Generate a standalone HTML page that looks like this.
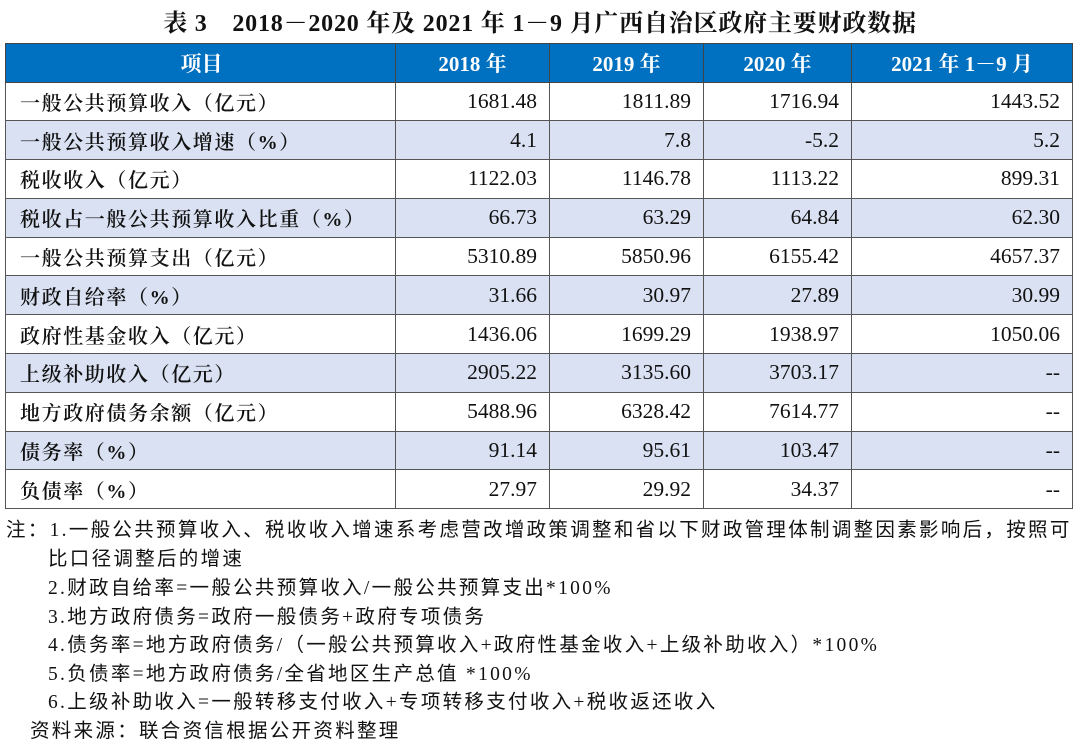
<!DOCTYPE html>
<html><head><meta charset="utf-8"><style>
body{margin:0;width:1080px;height:744px;background:#fff;position:relative;font-family:"Liberation Serif","Noto Serif CJK SC",serif;color:#111;overflow:hidden}
.t{position:absolute;top:3px;left:0;width:1080px;text-align:center;font-size:24px;font-weight:bold;letter-spacing:0.8px}
table{position:absolute;left:5px;top:43px;border-collapse:collapse;font-size:21.5px;table-layout:fixed}
td{border:1.5px solid #555;height:37.8px;padding:0 12px;text-align:right;white-space:nowrap;overflow:visible}
td:first-child{text-align:left;padding-left:14px;font-size:20px;letter-spacing:1.6px;font-weight:600}
tr.h td{background:#0070c0;color:#fff;font-weight:bold;text-align:center;height:37.5px;border-color:#444;font-size:21px;letter-spacing:0}
tr.s td{background:#d9e1f2}
.n{position:absolute;left:6px;font-size:19.5px;font-family:"Liberation Serif","Noto Sans CJK SC",sans-serif;white-space:nowrap;letter-spacing:2.3px}
</style></head><body>
<div class="t">表 3　2018－2020 年及 2021 年 1－9 月广西自治区政府主要财政数据</div>
<table>
<colgroup><col style="width:390px"><col style="width:154px"><col style="width:154px"><col style="width:148px"><col style="width:221px"></colgroup>
<tr class="h"><td>项目</td><td>2018 年</td><td>2019 年</td><td>2020 年</td><td>2021 年 1－9 月</td></tr>
<tr><td>一般公共预算收入（亿元）</td><td>1681.48</td><td>1811.89</td><td>1716.94</td><td>1443.52</td></tr>
<tr class="s"><td>一般公共预算收入增速（%）</td><td>4.1</td><td>7.8</td><td>-5.2</td><td>5.2</td></tr>
<tr><td>税收收入（亿元）</td><td>1122.03</td><td>1146.78</td><td>1113.22</td><td>899.31</td></tr>
<tr class="s"><td>税收占一般公共预算收入比重（%）</td><td>66.73</td><td>63.29</td><td>64.84</td><td>62.30</td></tr>
<tr><td>一般公共预算支出（亿元）</td><td>5310.89</td><td>5850.96</td><td>6155.42</td><td>4657.37</td></tr>
<tr class="s"><td>财政自给率（%）</td><td>31.66</td><td>30.97</td><td>27.89</td><td>30.99</td></tr>
<tr><td>政府性基金收入（亿元）</td><td>1436.06</td><td>1699.29</td><td>1938.97</td><td>1050.06</td></tr>
<tr class="s"><td>上级补助收入（亿元）</td><td>2905.22</td><td>3135.60</td><td>3703.17</td><td>--</td></tr>
<tr><td>地方政府债务余额（亿元）</td><td>5488.96</td><td>6328.42</td><td>7614.77</td><td>--</td></tr>
<tr class="s"><td>债务率（%）</td><td>91.14</td><td>95.61</td><td>103.47</td><td>--</td></tr>
<tr><td>负债率（%）</td><td>27.97</td><td>29.92</td><td>34.37</td><td>--</td></tr>
</table>
<div class="n" style="top:513px">注：1.一般公共预算收入、税收收入增速系考虑营改增政策调整和省以下财政管理体制调整因素影响后，按照可</div>
<div class="n" style="top:542px;left:48px">比口径调整后的增速</div>
<div class="n" style="top:571px;left:48px">2.财政自给率=一般公共预算收入/一般公共预算支出*100%</div>
<div class="n" style="top:600px;left:48px">3.地方政府债务=政府一般债务+政府专项债务</div>
<div class="n" style="top:628px;left:48px">4.债务率=地方政府债务/（一般公共预算收入+政府性基金收入+上级补助收入）*100%</div>
<div class="n" style="top:657px;left:48px">5.负债率=地方政府债务/全省地区生产总值 *100%</div>
<div class="n" style="top:685px;left:48px">6.上级补助收入=一般转移支付收入+专项转移支付收入+税收返还收入</div>
<div class="n" style="top:714px;left:30px">资料来源：联合资信根据公开资料整理</div>
</body></html>
